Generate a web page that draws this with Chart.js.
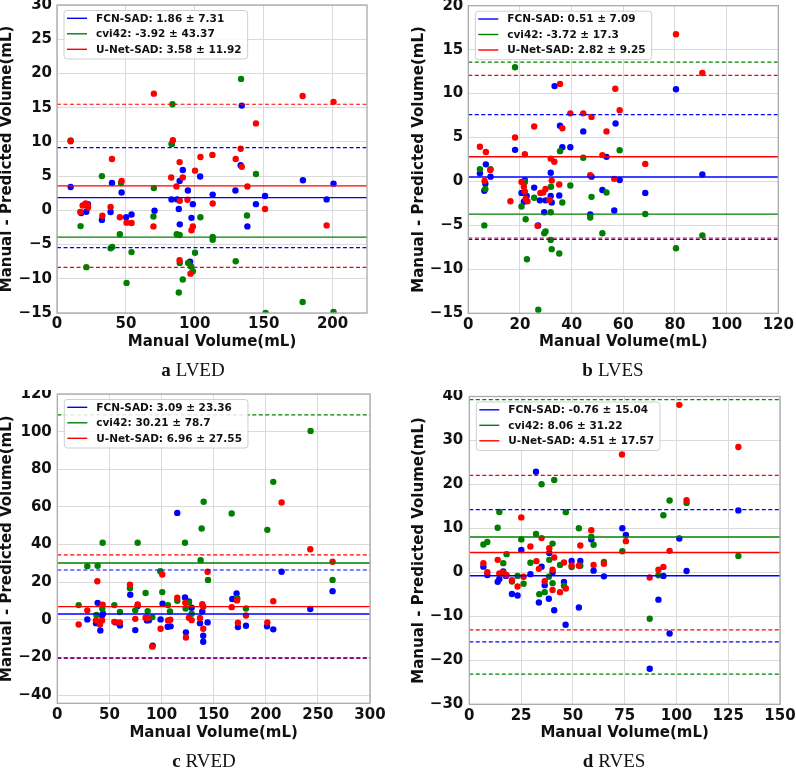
<!DOCTYPE html>
<html>
<head>
<meta charset="utf-8">
<script src="https://cdn.jsdelivr.net/npm/chart.js@4.4.1/dist/chart.umd.min.js"></script>
<style>
  html, body { margin: 0; padding: 0; background: #fff; }
  #wrap { position: relative; width: 796px; height: 768px; background: #fff; overflow: hidden; }
  .panel { position: absolute; }
  .cap { position: absolute; font-family: "Liberation Serif", "DejaVu Serif", serif; font-size: 19px;
         line-height: 19px; color: #111; white-space: nowrap; transform: translateX(-50%); }
  .cap b { margin-right: 5px; }
</style>
</head>
<body>
<div id="wrap">
  <canvas class="panel" id="cA" width="400" height="390" style="left:0;top:0"></canvas>
  <canvas class="panel" id="cB" width="396" height="390" style="left:400px;top:0"></canvas>
  <canvas class="panel" id="cC" width="400" height="378" style="left:0;top:390px"></canvas>
  <canvas class="panel" id="cD" width="396" height="378" style="left:400px;top:390px"></canvas>
  <div class="cap" style="left:193px;top:360px"><b>a</b>LVED</div>
  <div class="cap" style="left:613px;top:360px"><b>b</b>LVES</div>
  <div class="cap" style="left:204px;top:751px"><b>c</b>RVED</div>
  <div class="cap" style="left:614px;top:751px"><b>d</b>RVES</div>
</div>
<script>
// Bland-Altman panels: manual volume vs (manual - predicted) for three methods.
const methodNames = ['FCN-SAD', 'cvi42', 'U-Net-SAD'];
const methodColors = ['#0000ff', '#008000', '#ff0000'];

// --- a LVED ---
const meanA = [1.86, -3.92, 3.58];
const limA = [7.31, 43.37, 11.92];
const xTicksA = [0, 50, 100, 150, 200];
const yTicksA = [-15, -10, -5, 0, 5, 10, 15, 20, 25, 30];
const fcnA = [[9.9,3.4],[17.6,-0.4],[21.3,-0.2],[22.5,0.9],[32.6,-1.4],[38.9,-0.25],[39.9,4.0],[46.9,2.6],[50.2,-1.0],[54.1,-0.6],[70.8,-0.06],[83.1,1.6],[83.3,9.7],[87.2,1.6],[88.4,0.2],[89.0,4.3],[89.1,-2.05],[91.3,5.9],[95.0,2.9],[96.6,-7.5],[97.6,-1.1],[98.6,0.9],[103.9,4.95],[113.0,2.3],[129.5,2.9],[133.3,6.6],[134.1,15.3],[138.2,-2.35],[144.4,0.9],[151.0,2.1],[178.5,4.4],[195.7,1.6],[200.7,3.9]];
const cviA = [[9.9,10.2],[17.1,-2.3],[21.3,-8.3],[32.6,5.0],[38.9,-5.55],[40.1,-5.35],[45.6,-3.5],[46.5,4.0],[50.5,-10.6],[54.1,-6.1],[70.3,3.25],[70.0,-0.9],[83.8,15.5],[83.3,9.7],[86.9,-3.5],[89.0,-3.6],[89.1,-7.7],[88.4,-12.0],[91.3,-10.1],[95.2,-7.7],[97.3,-8.2],[98.6,-8.9],[100.2,-6.2],[104.1,-1.0],[113.0,-3.9],[113.0,-4.3],[129.7,-7.45],[133.6,19.2],[144.4,5.3],[137.9,-0.75],[151.4,-15.0],[178.3,-13.4],[200.7,-14.85]];
const unetA = [[9.9,10.1],[16.9,-0.25],[18.6,0.7],[20.8,1.0],[22.2,0.8],[22.5,0.4],[32.9,-0.8],[38.9,0.5],[39.9,7.5],[45.6,-1.0],[46.9,4.3],[50.5,-1.8],[54.1,-1.85],[70.3,17.05],[70.0,-2.35],[82.9,4.8],[84.1,10.25],[86.7,3.5],[89.0,7.05],[89.1,1.4],[89.0,-7.3],[91.3,4.8],[94.7,1.55],[96.9,-9.25],[97.6,-2.9],[98.6,-2.35],[100.2,5.8],[104.1,7.8],[112.8,8.1],[113.0,1.0],[129.7,7.5],[133.3,9.0],[134.1,6.35],[144.4,12.7],[138.2,3.5],[151.0,0.2],[178.3,16.7],[195.7,-2.2],[200.7,15.85]];

// --- b LVES ---
const meanB = [0.51, -3.72, 2.82];
const limB = [7.09, 17.3, 9.25];
const xTicksB = [0, 20, 40, 60, 80, 100, 120];
const yTicksB = [-15, -10, -5, 0, 5, 10, 15, 20];
const fcnB = [[4.5,0.93],[6.8,1.95],[6.6,-0.25],[6.2,-1.05],[8.6,0.55],[18.1,3.6],[20.6,-1.3],[21.5,-2.3],[21.9,0.15],[22.6,-1.65],[25.5,-0.7],[27.0,-5.0],[27.7,-2.15],[29.4,-3.5],[29.9,-2.15],[31.9,1.0],[31.9,-1.65],[32.3,-2.4],[33.4,10.85],[35.2,-1.6],[35.5,6.35],[36.4,3.9],[39.5,3.9],[44.5,5.7],[47.2,-3.75],[47.7,0.55],[51.9,-0.97],[53.5,2.8],[56.5,-3.3],[57.0,6.6],[58.6,0.17],[68.5,-1.3],[80.4,10.5],[90.6,0.8]];
const cviB = [[4.5,1.4],[6.6,-0.85],[6.2,-5.0],[8.6,1.4],[18.1,13.0],[20.6,-2.85],[21.9,-0.05],[22.2,-4.3],[22.7,-8.85],[25.5,-1.85],[27.1,-14.6],[29.4,-5.9],[29.9,-5.7],[31.9,-6.65],[32.3,-7.7],[31.9,-3.5],[32.0,-0.6],[35.2,-8.2],[35.5,3.45],[36.4,-2.4],[39.5,-0.45],[44.5,2.7],[47.2,-4.1],[47.7,-1.75],[51.9,-5.9],[53.5,-1.25],[58.6,3.55],[68.5,-3.7],[80.4,-7.6],[90.6,-6.15]];
const unetB = [[4.5,3.95],[6.8,3.35],[6.3,0.05],[8.5,1.3],[16.3,-2.25],[18.1,5.0],[21.9,3.1],[20.6,-0.05],[21.5,-0.6],[21.9,-1.15],[22.2,-2.0],[22.9,-2.25],[25.5,6.25],[26.8,-5.05],[27.9,-1.3],[29.0,-1.25],[29.9,-0.85],[31.4,-2.1],[31.9,2.6],[32.3,0.1],[33.3,2.25],[35.5,11.1],[35.2,-0.35],[36.4,6.05],[39.5,7.75],[44.5,7.75],[47.2,0.7],[47.7,7.35],[51.9,3.0],[53.5,5.7],[56.9,10.55],[56.5,0.3],[58.6,8.1],[68.5,2.0],[80.4,16.75],[90.6,12.35]];

// --- c RVED ---
const meanC = [3.09, 30.21, 6.96];
const limC = [23.36, 78.7, 27.55];
const xTicksC = [0, 50, 100, 150, 200, 250, 300];
const yTicksC = [-40, -20, 0, 20, 40, 60, 80, 100, 120];
const fcnC = [[28.8,0.2],[37.1,-1.8],[38.7,9.0],[41.3,-5.7],[42.9,2.3],[43.8,3.2],[56.0,-1.4],[60.1,-3.0],[70.0,13.3],[74.8,-5.5],[77.1,7.3],[86.0,-0.35],[87.9,-0.2],[91.5,-13.8],[99.1,0.2],[101.0,8.5],[105.9,-3.7],[108.7,-3.5],[115.1,56.8],[122.5,11.9],[123.4,-6.7],[126.3,9.7],[128.9,6.4],[136.9,-1.8],[139.1,4.4],[140.0,-8.5],[140.0,-11.7],[144.2,-1.4],[167.9,11.0],[172.0,14.0],[173.3,-3.9],[181.0,-3.2],[201.2,-3.5],[207.2,-5.1],[215.2,25.5],[242.7,5.7],[264.1,15.2]];
const cviC = [[20.5,7.8],[28.8,28.5],[38.7,28.7],[37.5,2.5],[43.2,5.8],[43.5,40.9],[54.7,7.8],[60.1,4.1],[69.7,16.8],[74.8,5.0],[77.1,40.9],[84.7,14.2],[86.7,4.6],[91.1,1.4],[98.8,25.8],[100.7,14.7],[106.2,7.8],[108.1,4.4],[115.1,10.1],[122.5,40.9],[123.1,6.0],[126.3,9.2],[128.9,3.2],[137.5,31.7],[138.5,48.5],[140.4,62.7],[144.6,21.2],[167.3,56.5],[172.7,11.3],[181.0,6.0],[201.5,47.8],[207.2,73.3],[243.0,100.4],[264.1,21.2]];
const unetC = [[20.5,-2.5],[28.8,5.0],[38.4,20.5],[37.1,-0.35],[40.9,-2.5],[42.9,-0.35],[43.5,8.0],[54.7,-1.1],[60.1,-1.4],[69.7,18.6],[74.8,0.5],[77.1,8.1],[84.7,1.1],[86.7,0.9],[91.1,-14.3],[99.1,-4.8],[100.7,24.1],[106.2,-0.35],[108.4,0.0],[115.1,11.7],[122.8,9.0],[123.4,-9.4],[126.3,1.1],[128.9,-0.2],[136.9,0.9],[139.1,8.3],[140.0,6.9],[140.0,-4.8],[144.2,25.5],[167.3,6.7],[172.4,10.3],[173.3,-1.6],[181.0,2.3],[201.5,-1.4],[207.2,9.9],[215.2,62.3],[242.7,37.5],[264.1,30.8]];

// --- d RVES ---
const meanD = [-0.76, 8.06, 4.51];
const limD = [15.04, 31.22, 17.57];
const xTicksD = [0, 25, 50, 75, 100, 125, 150];
const yTicksD = [-30, -20, -10, 0, 10, 20, 30, 40];
const fcnD = [[6.8,1.3],[8.7,-0.6],[13.7,-2.15],[14.5,-1.5],[16.4,0.2],[17.7,-0.8],[20.6,-4.9],[23.3,-5.25],[25.1,5.1],[29.5,-0.4],[32.2,22.9],[33.6,-6.85],[34.9,1.3],[36.4,-2.9],[38.4,-6.0],[38.6,4.4],[40.2,0.0],[41.0,-8.6],[45.7,-2.2],[46.5,-11.9],[49.4,2.6],[52.9,-8.0],[53.6,2.6],[58.9,7.5],[60.0,0.4],[65.0,-0.9],[73.9,10.05],[75.6,8.5],[87.1,-21.9],[91.3,-6.2],[93.7,-0.8],[96.7,-13.9],[101.4,7.7],[104.9,0.3],[129.9,14.1]];
const cviD = [[6.8,6.35],[8.7,6.9],[13.7,10.15],[14.5,13.75],[16.4,2.1],[18.0,4.15],[20.6,-2.1],[23.3,-0.8],[25.1,7.5],[26.2,-2.6],[29.5,2.2],[32.2,8.75],[33.8,-4.95],[34.9,20.05],[36.4,-4.5],[38.4,-1.0],[38.6,2.85],[40.2,6.55],[40.2,-2.45],[41.0,21.0],[43.8,1.7],[45.7,-3.05],[46.6,13.7],[49.4,1.2],[52.9,10.05],[53.6,1.5],[58.9,8.1],[60.0,6.3],[65.0,2.4],[73.9,4.8],[87.1,-10.55],[91.3,-0.65],[93.7,13.0],[96.7,16.35],[104.9,15.8],[129.9,3.75]];
const unetD = [[6.8,2.1],[8.7,0.05],[13.7,2.85],[14.5,-0.25],[16.4,0.0],[17.4,-0.5],[18.0,-0.65],[20.6,-1.8],[23.3,-3.2],[25.1,12.5],[26.2,-1.0],[29.5,5.9],[32.4,2.55],[33.6,0.8],[34.9,7.8],[36.4,-2.0],[38.6,5.5],[40.2,0.6],[40.2,-4.0],[41.0,3.4],[43.8,-4.5],[45.7,2.25],[46.6,-3.65],[49.4,1.55],[52.9,1.5],[53.6,6.1],[58.9,9.6],[60.0,1.7],[65.0,1.95],[73.7,26.8],[75.6,7.1],[87.1,-1.15],[91.3,0.6],[93.7,1.25],[96.7,4.9],[101.4,38.1],[104.9,16.4],[129.9,28.5]];

const AXIS_FONT = { family: '"DejaVu Sans", sans-serif', size: 15, weight: 'bold', lineHeight: 1.2 };

function minusFmt(v) {
    return v < 0 ? '\u2212' + Math.abs(v) : String(v);
}

// axes frame (matplotlib spines) drawn over the data
const framePlugin = {
    id: 'frame',
    afterDatasetsDraw(chart) {
        const { ctx, chartArea: a } = chart;
        ctx.save();
        ctx.strokeStyle = '#aaaaaa';
        ctx.lineWidth = 1.3;
        ctx.strokeRect(a.left, a.top, a.right - a.left, a.bottom - a.top);
        ctx.restore();
    }
};

const legendPlugin = {
    id: 'boxLegend',
    afterDraw(chart) {
        const { ctx, chartArea: a } = chart;
        const items = chart.data.datasets.filter(d => d.inLegend);
        ctx.save();
        ctx.font = 'bold 10.5px "DejaVu Sans", sans-serif';
        const textW = Math.max(...items.map(d => ctx.measureText(d.label).width));
        const x0 = a.left + 7, y0 = a.top + 5.5;
        const w = 32 + textW + 6, h = 48.5;
        ctx.fillStyle = 'rgba(255,255,255,0.85)';
        ctx.strokeStyle = '#cfcfcf';
        ctx.lineWidth = 1;
        ctx.beginPath();
        ctx.roundRect(x0, y0, w, h, 3);
        ctx.fill();
        ctx.stroke();
        items.forEach((d, i) => {
            const cy = y0 + 7.8 + i * 15.5;
            ctx.strokeStyle = d.borderColor;
            ctx.lineWidth = 1.4;
            ctx.beginPath();
            ctx.moveTo(x0 + 3, cy);
            ctx.lineTo(x0 + 23, cy);
            ctx.stroke();
            ctx.fillStyle = '#111';
            ctx.textBaseline = 'middle';
            ctx.textAlign = 'left';
            ctx.fillText(d.label, x0 + 32, cy + 0.5);
        });
        ctx.restore();
    }
};

function hline(y, xr, color, dashed, order) {
    return {
        type: 'line', showLine: true, data: [{ x: xr[0], y }, { x: xr[1], y }],
        borderColor: color, borderWidth: dashed ? 1.2 : 1.4, borderDash: dashed ? [4, 2.5] : [],
        pointRadius: 0, fill: false, order
    };
}

function makePanel(id, lay, xr, yr, xTicks, yTicks, points, means, lims) {
    const datasets = [];
    // mean lines first (legend handles), then +-limits, then the scatter points
    means.forEach((m, i) => {
        const ds = hline(m, xr, methodColors[i], false, 1);
        ds.label = `${methodNames[i]}: ${m} \u00b1 ${lims[i]}`;
        ds.inLegend = true;
        datasets.push(ds);
    });
    means.forEach((m, i) => {
        datasets.push(hline(m + lims[i], xr, methodColors[i], true, 1));
        datasets.push(hline(m - lims[i], xr, methodColors[i], true, 1));
    });
    points.forEach((pts, i) => {
        datasets.push({
            type: 'scatter', data: pts.map(p => ({ x: p[0], y: p[1] })),
            backgroundColor: methodColors[i], borderColor: methodColors[i], borderWidth: 0,
            pointRadius: 3.2, order: 4 - i
        });
    });

    const canvas = document.getElementById(id);
    const W = canvas.width, H = canvas.height;
    const xAxisBottom = lay.titleY + 9;

    new Chart(canvas.getContext('2d'), {
        type: 'scatter',
        data: { datasets },
        plugins: [framePlugin, legendPlugin],
        options: {
            responsive: false, animation: false, devicePixelRatio: 1,
            layout: { padding: { top: lay.top, right: W - lay.right, bottom: H - xAxisBottom, left: 0 } },
            plugins: { legend: { display: false }, tooltip: { enabled: false } },
            scales: {
                x: {
                    type: 'linear', min: xr[0], max: xr[1],
                    afterBuildTicks: s => { s.ticks = xTicks.map(v => ({ value: v })); },
                    afterFit: s => { s.height = xAxisBottom - lay.bottom; s.paddingLeft = 0; s.paddingRight = 0; },
                    grid: { color: '#dadada', lineWidth: 1, drawTicks: false },
                    border: { display: false },
                    ticks: { padding: 2.5, font: AXIS_FONT, color: '#111', maxRotation: 0, autoSkip: false, callback: minusFmt },
                    title: { display: true, text: 'Manual Volume(mL)', font: AXIS_FONT, color: '#111', padding: 0 }
                },
                y: {
                    type: 'linear', min: yr[0], max: yr[1],
                    afterBuildTicks: s => { s.ticks = yTicks.map(v => ({ value: v })); },
                    afterFit: s => { s.width = lay.left; s.paddingTop = 0; s.paddingBottom = 0; },
                    grid: { color: '#dadada', lineWidth: 1, drawTicks: false },
                    border: { display: false },
                    ticks: { padding: lay.tickPad, font: AXIS_FONT, color: '#111', autoSkip: false, callback: minusFmt },
                    title: {
                        display: true, text: 'Manual - Predicted Volume(mL)', color: '#111',
                        font: { family: '"DejaVu Sans", sans-serif', size: 15, weight: 'bold', lineHeight: 1 },
                        padding: { top: lay.yTitleX - 7.5, bottom: 0 }
                    }
                }
            }
        }
    });
}

makePanel('cA', { left: 57, right: 367, top: 5, bottom: 313, titleY: 342, yTitleX: 7.5, tickPad: 5 },
    [0, 225], [-15, 30], xTicksA, yTicksA, [fcnA, cviA, unetA], meanA, limA);
makePanel('cB', { left: 68.3, right: 378.3, top: 5.7, bottom: 313.3, titleY: 342, yTitleX: 19, tickPad: 5 },
    [0, 120], [-15, 20], xTicksB, yTicksB, [fcnB, cviB, unetB], meanB, limB);
makePanel('cC', { left: 57.3, right: 370, top: 3.7, bottom: 313.3, titleY: 343, yTitleX: 7.5, tickPad: 5.5 },
    [0, 300], [-44.4, 120], xTicksC, yTicksC, [fcnC, cviC, unetC], meanC, limC);
makePanel('cD', { left: 69.3, right: 380, top: 6.5, bottom: 314.3, titleY: 343, yTitleX: 19.5, tickPad: 6 },
    [0, 150], [-30, 40], xTicksD, yTicksD, [fcnD, cviD, unetD], meanD, limD);
</script>
</body>
</html>
